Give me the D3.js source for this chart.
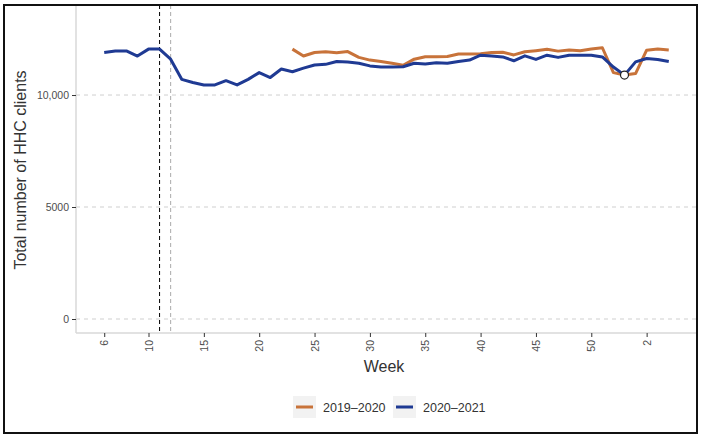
<!DOCTYPE html>
<html>
<head>
<meta charset="utf-8">
<script src="https://cdn.jsdelivr.net/npm/d3@7"></script>
<style>
  html, body { margin: 0; padding: 0; background: #fff; }
  svg { display: block; font-family: "Liberation Sans", Arial, sans-serif; }
</style>
</head>
<body>
<svg id="chart" width="703" height="439"></svg>
<script>
// ---- data ----
// week index runs continuously: 6..53 in the first year, then 54 = week 1, 55 = week 2, ...
const weeksBlue = d3.range(6, 58);
const valuesBlue = [11900, 11970, 11970, 11740, 12050, 12050, 11600, 10700, 10560, 10450,
                    10450, 10640, 10450, 10700, 11000, 10780, 11160, 11040, 11200, 11340,
                    11370, 11500, 11470, 11420, 11300, 11250, 11250, 11260, 11420, 11390,
                    11440, 11420, 11500, 11560, 11780, 11740, 11700, 11530, 11750, 11590,
                    11780, 11680, 11780, 11780, 11780, 11700, 11250, 10890, 11480, 11630,
                    11590, 11500];
const weeksOrange = d3.range(23, 58);
const valuesOrange = [12050, 11740, 11900, 11930, 11890, 11940, 11680, 11560, 11500, 11420,
                      11330, 11600, 11710, 11710, 11720, 11830, 11830, 11840, 11900, 11910,
                      11790, 11930, 11980, 12040, 11960, 12010, 11980, 12050, 12110, 11000,
                      10890, 10960, 12000, 12050, 12010];
const seriesNames = ["2019\u20132020", "2020\u20132021"];
const xTickValues = [6, 10, 15, 20, 25, 30, 35, 40, 45, 50, 55];
const xTickLabels = ["6", "10", "15", "20", "25", "30", "35", "40", "45", "50", "2"];
const yTickValues = [0, 5000, 10000];
const yTickLabels = ["0", "5000", "10,000"];
const vlineBlack = 11;
const vlineGray = 12;
const markerWeek = 53;
const markerValue = 10890;

// ---- layout ----
const svg = d3.select("#chart");
const pLeft = 76, pRight = 697, pTop = 5, pBottom = 333;
const x = d3.scaleLinear().domain([3.45, 59.55]).range([pLeft, pRight]);
const y = d3.scaleLinear().domain([-625, 13930]).range([pBottom, 7]);
const orange = "#c8733a", blue = "#1f3a93";

// grid
svg.append("g").selectAll("line").data(yTickValues).join("line")
  .attr("x1", pLeft).attr("x2", pRight)
  .attr("y1", d => y(d)).attr("y2", d => y(d))
  .attr("stroke", "#cfcfcf").attr("stroke-width", 1).attr("stroke-dasharray", "4,4");

// vertical reference lines
svg.append("line").attr("x1", x(vlineBlack)).attr("x2", x(vlineBlack))
  .attr("y1", pTop).attr("y2", pBottom)
  .attr("stroke", "#000").attr("stroke-width", 1).attr("stroke-dasharray", "4,3");
svg.append("line").attr("x1", x(vlineGray)).attr("x2", x(vlineGray))
  .attr("y1", pTop).attr("y2", pBottom)
  .attr("stroke", "#aaaaaa").attr("stroke-width", 1).attr("stroke-dasharray", "4,3");

// axes
const xAxis = d3.axisBottom(x).tickValues(xTickValues)
  .tickFormat((d, i) => xTickLabels[i]).tickSize(4).tickPadding(3);
const gx = svg.append("g").attr("transform", `translate(0,${pBottom})`).call(xAxis);
gx.select(".domain").attr("stroke", "#d9d9d9").attr("stroke-width", 1.5)
  .attr("d", `M${pLeft},0H${pRight}`);
gx.selectAll(".tick line").attr("stroke", "#333");
gx.selectAll(".tick text")
  .attr("fill", "#4d4d4d").attr("font-size", "10.5px")
  .attr("transform", "rotate(-90)")
  .attr("text-anchor", "end")
  .attr("x", -7).attr("y", 0).attr("dy", "0.35em");

const yAxis = d3.axisLeft(y).tickValues(yTickValues)
  .tickFormat((d, i) => yTickLabels[i]).tickSize(4).tickPadding(3);
const gy = svg.append("g").attr("transform", `translate(${pLeft},0)`).call(yAxis);
gy.select(".domain").attr("stroke", "#d9d9d9").attr("stroke-width", 1.5)
  .attr("d", `M0,${pTop}V${pBottom}`);
gy.selectAll(".tick line").attr("stroke", "#333");
gy.selectAll(".tick text").attr("fill", "#4d4d4d").attr("font-size", "10.5px");

// lines
const line = d3.line().x(d => x(d[0])).y(d => y(d[1]));
svg.append("path").datum(weeksOrange.map((w, i) => [w, valuesOrange[i]]))
  .attr("d", line).attr("fill", "none").attr("stroke", orange).attr("stroke-width", 3)
  .attr("stroke-linejoin", "round");
svg.append("path").datum(weeksBlue.map((w, i) => [w, valuesBlue[i]]))
  .attr("d", line).attr("fill", "none").attr("stroke", blue).attr("stroke-width", 3)
  .attr("stroke-linejoin", "round");

// marker
svg.append("circle").attr("cx", x(markerWeek)).attr("cy", y(markerValue)).attr("r", 4)
  .attr("fill", "#fff").attr("stroke", "#222").attr("stroke-width", 1.2);

// axis titles
svg.append("text").attr("x", 384).attr("y", 372).attr("text-anchor", "middle")
  .attr("font-size", "16px").attr("fill", "#333").text("Week");
svg.append("text").attr("transform", `translate(26,170) rotate(-90)`)
  .attr("text-anchor", "middle").attr("font-size", "16px").attr("fill", "#333")
  .text("Total number of HHC clients");

// legend
const legendX = [293, 393];
const legendColors = [orange, blue];
const lg = svg.append("g");
seriesNames.forEach((name, i) => {
  lg.append("rect").attr("x", legendX[i]).attr("y", 396).attr("width", 23).attr("height", 22)
    .attr("fill", "#f2f2f2");
  lg.append("line").attr("x1", legendX[i] + 3).attr("x2", legendX[i] + 20)
    .attr("y1", 407).attr("y2", 407).attr("stroke", legendColors[i]).attr("stroke-width", 3);
  lg.append("text").attr("x", legendX[i] + 30).attr("y", 411.5)
    .attr("font-size", "12.5px").attr("fill", "#333").text(name);
});

// outer border
svg.append("rect").attr("x", 4).attr("y", 5).attr("width", 693).attr("height", 428)
  .attr("fill", "none").attr("stroke", "#111").attr("stroke-width", 2);
</script>
</body>
</html>
